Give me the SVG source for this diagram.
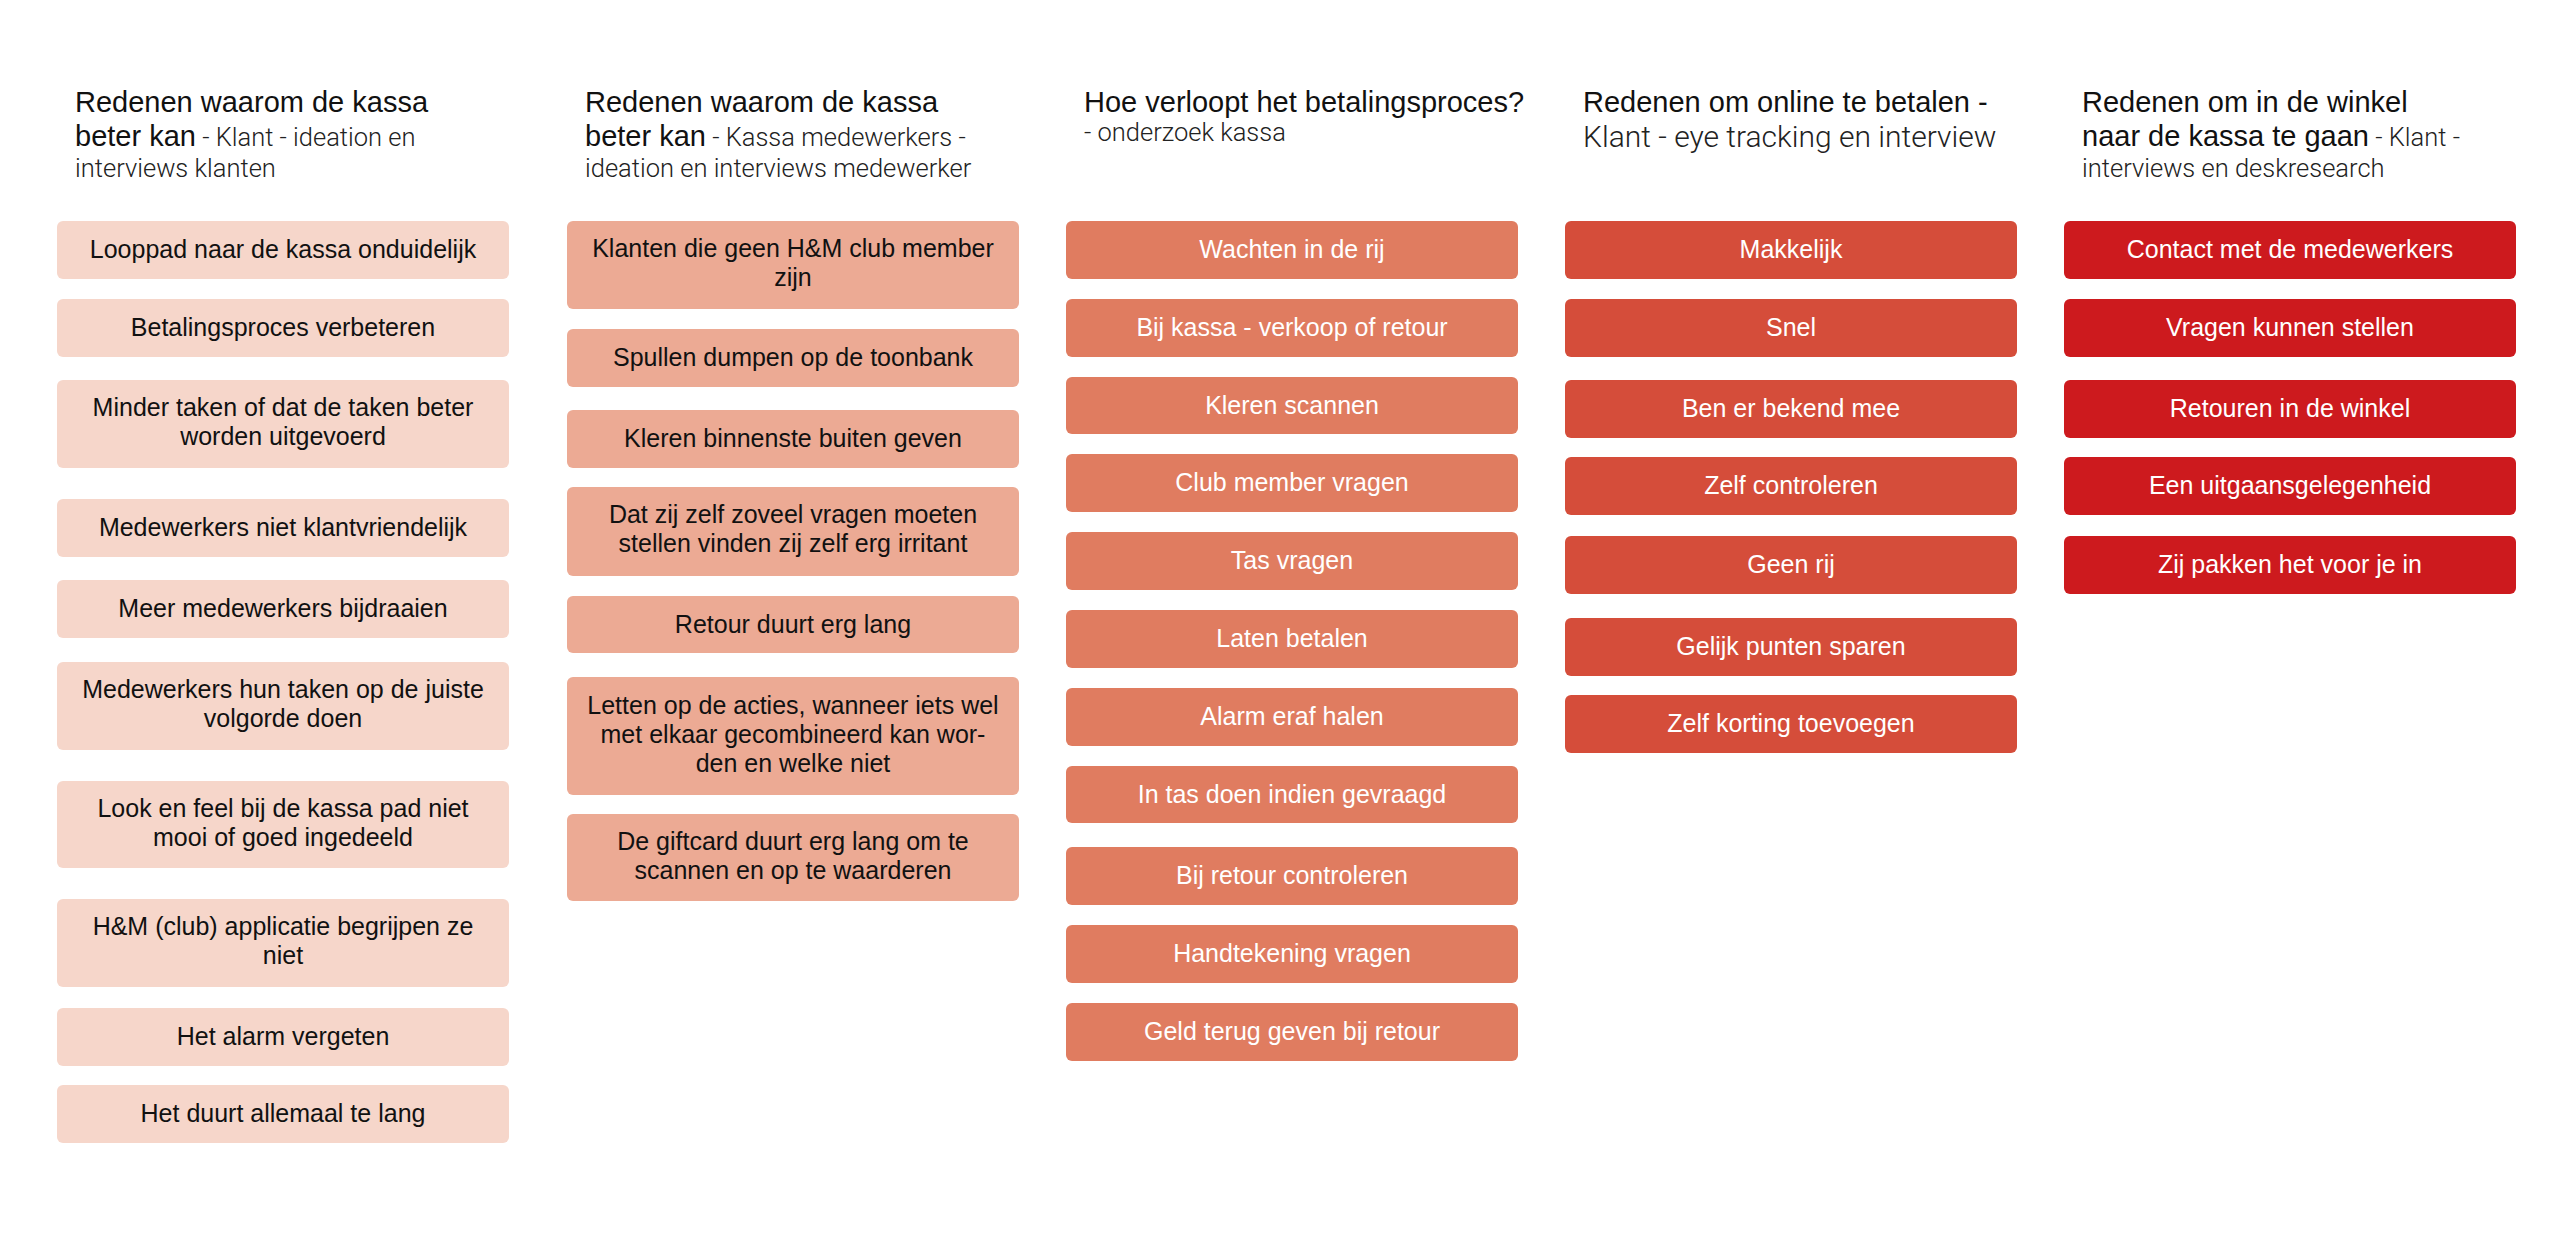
<svg xmlns="http://www.w3.org/2000/svg" width="2569" height="1240" viewBox="0 0 2569 1240">
<style>
.bg{fill:#ffffff}
.card rect{rx:6px;ry:6px}
.c1 rect{fill:#F6D6CA}
.c2 rect{fill:#ECAA94}
.c3 rect{fill:#E07C60}
.c4 rect{fill:#D54D3A}
.c5 rect{fill:#CD1A1E}
.card text{font-family:"Liberation Sans",Arial,sans-serif;font-size:25px;text-anchor:middle}
.c1 text,.c2 text{fill:#111111}
.c3 text,.c4 text,.c5 text{fill:#ffffff}
.hd{font-family:"Liberation Sans",Arial,sans-serif;font-size:29px;fill:#111111}
.sub{font-family:Roboto,"Liberation Sans",sans-serif;font-weight:300;font-size:25.5px;fill:#222222}
.sub29{font-family:Roboto,"Liberation Sans",sans-serif;font-weight:300;font-size:30px;fill:#222222}
</style>
<rect class="bg" x="0" y="0" width="2569" height="1240"/>

<g id="header-1">
<text class="hd" x="75" y="112">Redenen waarom de kassa</text>
<text class="hd" x="75" y="146">beter kan<tspan class="sub"> - Klant - ideation en</tspan></text>
<text class="sub" x="75" y="177">interviews klanten</text>
</g>
<g id="header-2">
<text class="hd" x="585" y="112">Redenen waarom de kassa</text>
<text class="hd" x="585" y="146">beter kan<tspan class="sub"> - Kassa medewerkers -</tspan></text>
<text class="sub" x="585" y="177">ideation en interviews medewerker</text>
</g>
<g id="header-3">
<text class="hd" x="1084" y="112">Hoe verloopt het betalingsproces?</text>
<text class="sub" x="1084" y="141">- onderzoek kassa</text>
</g>
<g id="header-4">
<text class="hd" x="1583" y="112">Redenen om online te betalen -</text>
<text class="sub29" x="1583" y="147">Klant - eye tracking en interview</text>
</g>
<g id="header-5">
<text class="hd" x="2082" y="112">Redenen om in de winkel</text>
<text class="hd" x="2082" y="146">naar de kassa te gaan<tspan class="sub"> - Klant -</tspan></text>
<text class="sub" x="2082" y="177">interviews en deskresearch</text>
</g>

<!-- Column 1 -->
<g id="c1-1" class="card c1"><rect x="57" y="221" width="452" height="58"/><text x="283" y="258">Looppad naar de kassa onduidelijk</text></g>
<g id="c1-2" class="card c1"><rect x="57" y="299" width="452" height="58"/><text x="283" y="336">Betalingsproces verbeteren</text></g>
<g id="c1-3" class="card c1"><rect x="57" y="380" width="452" height="88"/><text x="283" y="416">Minder taken of dat de taken beter</text><text x="283" y="445">worden uitgevoerd</text></g>
<g id="c1-4" class="card c1"><rect x="57" y="499" width="452" height="58"/><text x="283" y="536">Medewerkers niet klantvriendelijk</text></g>
<g id="c1-5" class="card c1"><rect x="57" y="580" width="452" height="58"/><text x="283" y="617">Meer medewerkers bijdraaien</text></g>
<g id="c1-6" class="card c1"><rect x="57" y="662" width="452" height="88"/><text x="283" y="698">Medewerkers hun taken op de juiste</text><text x="283" y="727">volgorde doen</text></g>
<g id="c1-7" class="card c1"><rect x="57" y="781" width="452" height="87"/><text x="283" y="817">Look en feel bij de kassa pad niet</text><text x="283" y="846">mooi of goed ingedeeld</text></g>
<g id="c1-8" class="card c1"><rect x="57" y="899" width="452" height="88"/><text x="283" y="935">H&amp;M (club) applicatie begrijpen ze</text><text x="283" y="964">niet</text></g>
<g id="c1-9" class="card c1"><rect x="57" y="1008" width="452" height="58"/><text x="283" y="1045">Het alarm vergeten</text></g>
<g id="c1-10" class="card c1"><rect x="57" y="1085" width="452" height="58"/><text x="283" y="1122">Het duurt allemaal te lang</text></g>

<!-- Column 2 -->
<g id="c2-1" class="card c2"><rect x="567" y="221" width="452" height="88"/><text x="793" y="257">Klanten die geen H&amp;M club member</text><text x="793" y="286">zijn</text></g>
<g id="c2-2" class="card c2"><rect x="567" y="329" width="452" height="58"/><text x="793" y="366">Spullen dumpen op de toonbank</text></g>
<g id="c2-3" class="card c2"><rect x="567" y="410" width="452" height="58"/><text x="793" y="447">Kleren binnenste buiten geven</text></g>
<g id="c2-4" class="card c2"><rect x="567" y="487" width="452" height="89"/><text x="793" y="523">Dat zij zelf zoveel vragen moeten</text><text x="793" y="552">stellen vinden zij zelf erg irritant</text></g>
<g id="c2-5" class="card c2"><rect x="567" y="596" width="452" height="57"/><text x="793" y="633">Retour duurt erg lang</text></g>
<g id="c2-6" class="card c2"><rect x="567" y="677" width="452" height="118"/><text x="793" y="714">Letten op de acties, wanneer iets wel</text><text x="793" y="743">met elkaar gecombineerd kan wor-</text><text x="793" y="772">den en welke niet</text></g>
<g id="c2-7" class="card c2"><rect x="567" y="814" width="452" height="87"/><text x="793" y="850">De giftcard duurt erg lang om te</text><text x="793" y="879">scannen en op te waarderen</text></g>

<!-- Column 3 -->
<g id="c3-1" class="card c3"><rect x="1066" y="221" width="452" height="58"/><text x="1292" y="258">Wachten in de rij</text></g>
<g id="c3-2" class="card c3"><rect x="1066" y="299" width="452" height="58"/><text x="1292" y="336">Bij kassa - verkoop of retour</text></g>
<g id="c3-3" class="card c3"><rect x="1066" y="377" width="452" height="57"/><text x="1292" y="414">Kleren scannen</text></g>
<g id="c3-4" class="card c3"><rect x="1066" y="454" width="452" height="58"/><text x="1292" y="491">Club member vragen</text></g>
<g id="c3-5" class="card c3"><rect x="1066" y="532" width="452" height="58"/><text x="1292" y="569">Tas vragen</text></g>
<g id="c3-6" class="card c3"><rect x="1066" y="610" width="452" height="58"/><text x="1292" y="647">Laten betalen</text></g>
<g id="c3-7" class="card c3"><rect x="1066" y="688" width="452" height="58"/><text x="1292" y="725">Alarm eraf halen</text></g>
<g id="c3-8" class="card c3"><rect x="1066" y="766" width="452" height="57"/><text x="1292" y="803">In tas doen indien gevraagd</text></g>
<g id="c3-9" class="card c3"><rect x="1066" y="847" width="452" height="58"/><text x="1292" y="884">Bij retour controleren</text></g>
<g id="c3-10" class="card c3"><rect x="1066" y="925" width="452" height="58"/><text x="1292" y="962">Handtekening vragen</text></g>
<g id="c3-11" class="card c3"><rect x="1066" y="1003" width="452" height="58"/><text x="1292" y="1040">Geld terug geven bij retour</text></g>

<!-- Column 4 -->
<g id="c4-1" class="card c4"><rect x="1565" y="221" width="452" height="58"/><text x="1791" y="258">Makkelijk</text></g>
<g id="c4-2" class="card c4"><rect x="1565" y="299" width="452" height="58"/><text x="1791" y="336">Snel</text></g>
<g id="c4-3" class="card c4"><rect x="1565" y="380" width="452" height="58"/><text x="1791" y="417">Ben er bekend mee</text></g>
<g id="c4-4" class="card c4"><rect x="1565" y="457" width="452" height="58"/><text x="1791" y="494">Zelf controleren</text></g>
<g id="c4-5" class="card c4"><rect x="1565" y="536" width="452" height="58"/><text x="1791" y="573">Geen rij</text></g>
<g id="c4-6" class="card c4"><rect x="1565" y="618" width="452" height="58"/><text x="1791" y="655">Gelijk punten sparen</text></g>
<g id="c4-7" class="card c4"><rect x="1565" y="695" width="452" height="58"/><text x="1791" y="732">Zelf korting toevoegen</text></g>

<!-- Column 5 -->
<g id="c5-1" class="card c5"><rect x="2064" y="221" width="452" height="58"/><text x="2290" y="258">Contact met de medewerkers</text></g>
<g id="c5-2" class="card c5"><rect x="2064" y="299" width="452" height="58"/><text x="2290" y="336">Vragen kunnen stellen</text></g>
<g id="c5-3" class="card c5"><rect x="2064" y="380" width="452" height="58"/><text x="2290" y="417">Retouren in de winkel</text></g>
<g id="c5-4" class="card c5"><rect x="2064" y="457" width="452" height="58"/><text x="2290" y="494">Een uitgaansgelegenheid</text></g>
<g id="c5-5" class="card c5"><rect x="2064" y="536" width="452" height="58"/><text x="2290" y="573">Zij pakken het voor je in</text></g>
</svg>
